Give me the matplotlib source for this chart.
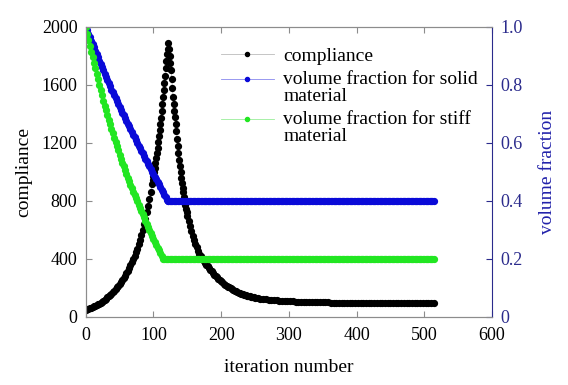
import matplotlib
matplotlib.use("Agg")
import numpy as np
import matplotlib.pyplot as plt
from matplotlib.legend_handler import HandlerLine2D

plt.rcParams['font.family'] = ['Liberation Serif', 'DejaVu Serif']

# compliance
comp_it = list(range(0, 99, 2)) + list(range(99, 151)) + list(range(152, 251, 2)) + list(range(254, 515, 4))
compliance = [50, 53, 56, 60, 64, 68, 72, 77, 82, 87, 92, 98, 104, 111, 118, 126, 134, 143, 152, 161,
              170, 181, 192, 203, 214, 227, 240, 254, 268, 284, 300, 317, 335, 355, 375, 397, 420, 445,
              470, 500, 530, 565, 600, 638, 678, 720, 765, 812, 862, 915,
              942, 970, 1000, 1030, 1062, 1095, 1130, 1167, 1205, 1245, 1287, 1330, 1375, 1420, 1467,
              1515, 1565, 1615, 1665, 1715, 1765, 1810, 1850, 1890, 1850, 1800, 1750, 1700, 1640, 1580,
              1520, 1470, 1420, 1380, 1330, 1280, 1230, 1180, 1130, 1085, 1040, 1000, 960, 925, 890,
              860, 830, 800, 772, 746, 720, 696,
              660, 625, 592, 560, 532, 505, 480, 456, 436, 418, 402, 388, 374, 361, 348, 336, 325, 314,
              303, 292, 282, 272, 263, 254, 246, 238, 230, 223, 216, 209, 203, 197, 191, 185, 180, 175,
              171, 167, 163, 159, 156, 153, 150, 147, 144, 141, 139, 136, 134, 132,
              128, 125, 122, 120, 118, 117, 116, 115, 108, 107, 107, 106, 106, 106, 105, 105, 105, 105,
              104, 104, 104, 104, 103, 103, 103, 103, 102, 98,
              98, 98, 98, 98, 98, 98, 98, 98, 97, 97, 97, 97, 97, 97, 97, 97, 97, 97, 97, 97, 97, 97, 97,
              96, 96, 96, 96, 96, 96, 96, 96, 96, 96, 96, 96, 96, 96, 96]

# volume fraction for solid material
solid_it = list(range(0, 121, 2)) + [121] + list(range(122, 515, 2))
solid = [1.000, 0.988, 0.977, 0.965, 0.953, 0.942, 0.930, 0.918, 0.906, 0.895, 0.884, 0.872, 0.861,
         0.850, 0.839, 0.828, 0.817, 0.806, 0.795, 0.784, 0.774, 0.764, 0.754, 0.744, 0.734, 0.724,
         0.714, 0.704, 0.695, 0.685, 0.676, 0.666, 0.657, 0.647, 0.638, 0.628, 0.619, 0.609, 0.600,
         0.591, 0.582, 0.573, 0.564, 0.555, 0.546, 0.537, 0.528, 0.519, 0.510, 0.501, 0.492, 0.483,
         0.474, 0.465, 0.457, 0.448, 0.439, 0.430, 0.422, 0.413, 0.404, 0.400]
solid += [0.4] * len(range(122, 515, 2))

# volume fraction for stiff material
stiff_it = list(range(0, 113, 2)) + [114] + list(range(116, 515, 2))
stiff = [1.000, 0.977, 0.955, 0.935, 0.915, 0.895, 0.876, 0.857, 0.838, 0.819, 0.800, 0.782, 0.764,
         0.746, 0.729, 0.712, 0.696, 0.680, 0.664, 0.648, 0.633, 0.618, 0.603, 0.588, 0.574, 0.560,
         0.546, 0.532, 0.519, 0.506, 0.493, 0.480, 0.468, 0.456, 0.444, 0.432, 0.421, 0.409, 0.398,
         0.387, 0.376, 0.365, 0.354, 0.343, 0.332, 0.321, 0.310, 0.299, 0.289, 0.278, 0.268, 0.258,
         0.248, 0.238, 0.229, 0.219, 0.210, 0.200]
stiff += [0.2] * len(range(116, 515, 2))


class UpHandler(HandlerLine2D):
    # marker sits on the first line of a two-line label
    def create_artists(self, legend, orig_handle, xdescent, ydescent, width, height, fontsize, trans):
        arts = super().create_artists(legend, orig_handle, xdescent, ydescent, width, height, fontsize, trans)
        for a in arts:
            a.set_ydata(np.asarray(a.get_ydata()) + 0.42 * fontsize)
        return arts


navy = '#2b2b8c'
grey = '#8c8c8c'
fs = 13
lfs = 14

fig = plt.figure(figsize=(5.68, 3.85), dpi=100)
ax = fig.add_axes([0.151, 0.177, 0.715, 0.753])
ax2 = ax.twinx()

l1, = ax.plot(comp_it, compliance, '-o', color='#bbbbbb', mfc='black', mec='black',
              ms=4.2, lw=0.6, label='compliance')
l2, = ax2.plot(solid_it, solid, '-o', color='#8888ee', mfc='#0a0ad8', mec='#0a0ad8',
               ms=4.2, lw=0.6, label='volume fraction for solid\nmaterial')
l3, = ax2.plot(stiff_it, stiff, '-o', color='#99ee99', mfc='#22e622', mec='#22e622',
               ms=4.2, lw=0.6, label='volume fraction for stiff\nmaterial')

ax.set_xlim(0, 600)
ax.set_ylim(0, 2000)
ax2.set_ylim(0, 1.0)
ax.set_xticks([0, 100, 200, 300, 400, 500, 600])
ax.set_yticks([0, 400, 800, 1200, 1600, 2000])
ax2.set_yticks([0, 0.2, 0.4, 0.6, 0.8, 1.0])
ax2.set_yticklabels(['0', '0.2', '0.4', '0.6', '0.8', '1.0'])

for s in ['left', 'bottom', 'top']:
    ax.spines[s].set_color(grey)
    ax2.spines[s].set_color(grey)
ax.spines['right'].set_visible(False)
ax2.spines['right'].set_color(navy)
ax.tick_params(direction='in', length=4, color=grey, labelsize=fs, top=True)
ax.tick_params(axis='x', pad=7)
ax.tick_params(axis='y', pad=6)
ax2.tick_params(direction='in', length=4, color=navy, labelcolor=navy, labelsize=fs, pad=6)

ax.set_xlabel('iteration number', fontsize=lfs, labelpad=11)
ax.set_ylabel('compliance', fontsize=lfs, labelpad=7)
ax2.set_ylabel('volume fraction', fontsize=lfs, color='#2222aa', labelpad=12)

hm = {l2: UpHandler(), l3: UpHandler()}
leg = ax2.legend(handles=[l1, l2, l3], loc='upper left', bbox_to_anchor=(0.29, 0.99), frameon=False,
                 fontsize=lfs, handlelength=2.7, handletextpad=0.5, labelspacing=0.3,
                 markerscale=0.7, handler_map=hm)
for t in leg.get_texts():
    t.set_linespacing(1.0)

fig.savefig('out.png', dpi=100)
